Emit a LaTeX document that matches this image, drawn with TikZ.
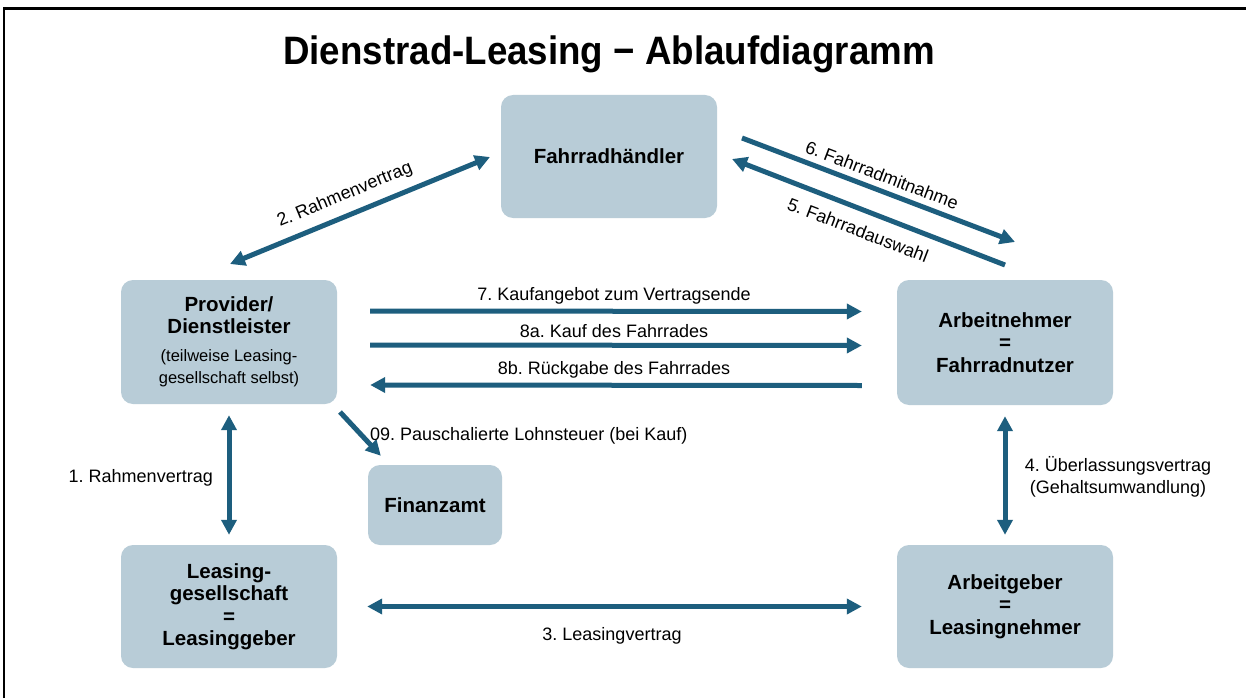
\documentclass[tikz,border=0pt]{standalone}
\usepackage{fontspec}
\setmainfont{Liberation Sans}
\usetikzlibrary{arrows.meta}
\frenchspacing
\definecolor{boxfill}{HTML}{B8CCD7}
\definecolor{arrowcol}{HTML}{1D5E7E}
\newcommand\notefont{\fontsize{16.5pt}{18pt}\selectfont\mdseries}
\tikzset{
  box/.style={fill=boxfill, rounded corners=12pt, align=center, inner sep=0pt,
    font=\fontsize{20.5pt}{22.5pt}\selectfont\bfseries},
  conn/.style={draw=arrowcol, line width=5pt, -{Triangle[length=15pt,width=15pt]}},
  conn2/.style={draw=arrowcol, line width=5pt, {Triangle[length=15pt,width=15pt]}-{Triangle[length=15pt,width=15pt]}},
  lbl/.style={font=\fontsize{18pt}{20pt}\selectfont, inner sep=0pt, align=center},
}
\begin{document}
\begin{tikzpicture}[x=1pt,y=-1pt]
\useasboundingbox (0,0) rectangle (1246,698);
\fill[white] (0,0) rectangle (1246,698);
% frame (top and left edges)
\draw[black, line width=2.5pt] (4,698) -- (4,8.5) -- (1246,8.5);

% title
\node[font=\fontsize{36.7pt}{40pt}\selectfont\bfseries, inner sep=0pt, yscale=1.08] (title) at (609,54) {Dienstrad-Leasing − Ablaufdiagramm};

% boxes
\node[box, minimum width=216pt, minimum height=123pt] (haendler) at (609,156.5) {Fahrradhändler};
\node[box, minimum width=216pt, minimum height=124pt] (provider) at (229,342) {Provider/\\Dienstleister\\[5pt]\notefont (teilweise Leasing-\\\notefont gesellschaft selbst)};
\node[box, minimum width=216pt, minimum height=125pt] (nehmer) at (1005,342.5) {Arbeitnehmer\\=\\Fahrradnutzer};
\node[box, minimum width=134pt, minimum height=80pt] (finanzamt) at (435,505) {Finanzamt};
\node[box, minimum width=216pt, minimum height=123pt] (leasing) at (229,606.5) {Leasing-\\gesellschaft\\=\\Leasinggeber};
\node[box, minimum width=216pt, minimum height=123pt] (geber) at (1005,606.5) {Arbeitgeber\\=\\Leasingnehmer};

% coordinates for diagonal connectors
\coordinate (r2a) at (230,264);
\coordinate (r2b) at (490,157);
\coordinate (f6a) at (742,138);
\coordinate (f6b) at (1015,242);
\coordinate (f5a) at (1005,265);
\coordinate (f5b) at (732,159);
\coordinate (s9a) at (340,412);

% connectors
\draw[conn2] (r2a) -- (r2b);
\draw[conn] (f6a) -- (f6b);
\draw[conn] (f5a) -- (f5b);
\draw[conn] ([yshift=31pt,xshift=33pt]provider.east) -- ([yshift=31pt,xshift=-35pt]nehmer.west);
\draw[conn] ([yshift=-3pt,xshift=33pt]provider.east) -- ([yshift=-3pt,xshift=-35pt]nehmer.west);
\draw[conn] ([yshift=-43pt,xshift=-35pt]nehmer.west) -- ([yshift=-43pt,xshift=33pt]provider.east);
\draw[conn] (s9a) -- ([xshift=13pt,yshift=9pt]finanzamt.north west);
\draw[conn2, shorten <=11pt, shorten >=10pt] (provider.south) -- (leasing.north);
\draw[conn2, shorten <=11pt, shorten >=10pt] (nehmer.south) -- (geber.north);
\draw[conn2, shorten <=30pt, shorten >=35pt] (leasing.east) -- (geber.west);

% labels
\node[lbl, rotate=22.5] (l2) at (345,195) {2. Rahmenvertrag};
\node[lbl, rotate=-20.9] (l6) at (882,175) {6. Fahrradmitnahme};
\node[lbl, rotate=-21] (l5) at (858,230) {5. Fahrradauswahl};
\node[lbl] (l7) at (614,296) {7. Kaufangebot zum Vertragsende};
\node[lbl] (l8a) at (614,331) {8a. Kauf des Fahrrades};
\node[lbl] (l8b) at (614,370) {8b. Rückgabe des Fahrrades};
\node[lbl, anchor=west] (l9) at (370,436) {09. Pauschalierte Lohnsteuer (bei Kauf)};
\node[lbl, anchor=east] (l1) at (213,478) {1. Rahmenvertrag};
\node[lbl, font=\fontsize{18pt}{22pt}\selectfont] (l4) at (1118,477) {4. Überlassungsvertrag\\(Gehaltsumwandlung)};
\node[lbl] (l3) at (612,636) {3. Leasingvertrag};
\end{tikzpicture}
\end{document}
